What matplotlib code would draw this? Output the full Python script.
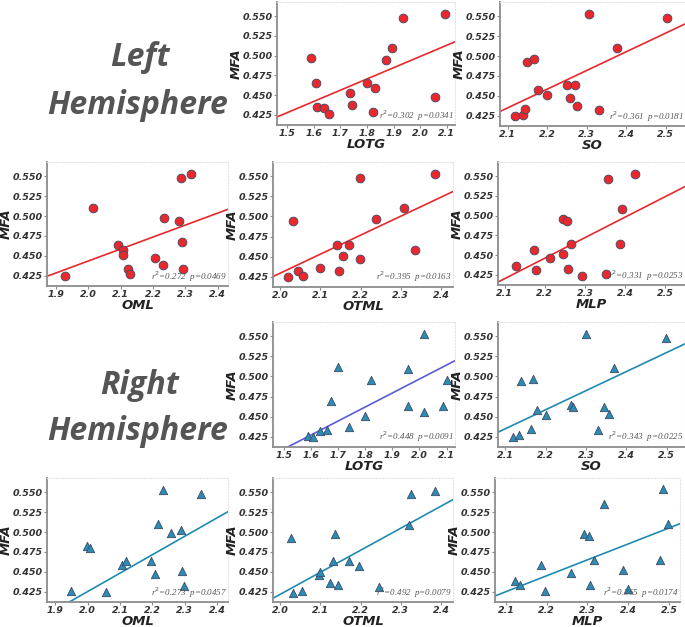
import numpy as np
import matplotlib
matplotlib.use("Agg")
import matplotlib.pyplot as plt
from matplotlib.ticker import MultipleLocator

# ---- data ----
# left hemisphere (circles)
lotg_l_x = [1.589, 1.606, 1.610, 1.637, 1.658, 1.737, 1.742, 1.800, 1.829, 1.823, 1.872, 1.894, 1.936, 2.054, 2.092]
lotg_l_y = [0.497, 0.465, 0.435, 0.433, 0.426, 0.452, 0.438, 0.465, 0.459, 0.428, 0.494, 0.510, 0.548, 0.448, 0.553]
so_l_x = [2.119, 2.138, 2.145, 2.150, 2.168, 2.178, 2.201, 2.251, 2.258, 2.271, 2.276, 2.307, 2.332, 2.377, 2.503]
so_l_y = [0.424, 0.426, 0.433, 0.493, 0.496, 0.457, 0.451, 0.464, 0.447, 0.464, 0.437, 0.553, 0.432, 0.510, 0.548]
oml_l_x = [1.927, 2.014, 2.092, 2.106, 2.107, 2.123, 2.130, 2.207, 2.230, 2.233, 2.280, 2.287, 2.291, 2.294, 2.318]
oml_l_y = [0.425, 0.510, 0.464, 0.457, 0.451, 0.433, 0.427, 0.447, 0.438, 0.497, 0.494, 0.548, 0.467, 0.433, 0.553]
otml_l_x = [2.019, 2.032, 2.045, 2.056, 2.099, 2.142, 2.147, 2.156, 2.172, 2.198, 2.198, 2.238, 2.308, 2.335, 2.385]
otml_l_y = [0.424, 0.494, 0.432, 0.426, 0.436, 0.464, 0.432, 0.451, 0.464, 0.548, 0.447, 0.497, 0.510, 0.458, 0.553]
mlp_l_x = [2.127, 2.174, 2.177, 2.212, 2.246, 2.246, 2.256, 2.258, 2.266, 2.293, 2.352, 2.358, 2.387, 2.393, 2.425]
mlp_l_y = [0.436, 0.457, 0.431, 0.446, 0.451, 0.496, 0.493, 0.432, 0.464, 0.424, 0.426, 0.547, 0.464, 0.509, 0.553]

# right hemisphere (triangles)
lotg_r_x = [1.589, 1.609, 1.635, 1.659, 1.674, 1.702, 1.740, 1.798, 1.820, 1.958, 1.958, 2.017, 2.016, 2.088, 2.100]
lotg_r_y = [0.426, 0.424, 0.432, 0.433, 0.470, 0.512, 0.437, 0.451, 0.495, 0.509, 0.463, 0.553, 0.456, 0.463, 0.495]
so_r_x = [2.118, 2.135, 2.140, 2.163, 2.169, 2.178, 2.200, 2.263, 2.268, 2.301, 2.329, 2.344, 2.356, 2.369, 2.498]
so_r_y = [0.425, 0.427, 0.494, 0.434, 0.497, 0.458, 0.452, 0.465, 0.462, 0.553, 0.433, 0.462, 0.453, 0.510, 0.548]
oml_r_x = [1.947, 1.997, 2.008, 2.055, 2.107, 2.118, 2.195, 2.209, 2.217, 2.233, 2.258, 2.288, 2.292, 2.298, 2.349]
oml_r_y = [0.426, 0.483, 0.480, 0.424, 0.458, 0.464, 0.464, 0.447, 0.510, 0.553, 0.499, 0.503, 0.451, 0.432, 0.548]
otml_r_x = [2.026, 2.031, 2.055, 2.096, 2.100, 2.123, 2.131, 2.136, 2.143, 2.171, 2.196, 2.247, 2.320, 2.325, 2.385]
otml_r_y = [0.492, 0.423, 0.426, 0.446, 0.450, 0.436, 0.463, 0.497, 0.433, 0.463, 0.457, 0.431, 0.509, 0.548, 0.552]
mlp_r_x = [2.121, 2.134, 2.186, 2.196, 2.259, 2.291, 2.303, 2.307, 2.316, 2.341, 2.388, 2.400, 2.477, 2.486, 2.498]
mlp_r_y = [0.438, 0.433, 0.459, 0.426, 0.448, 0.498, 0.495, 0.434, 0.465, 0.535, 0.452, 0.428, 0.465, 0.554, 0.510]

# fitted lines (slope, intercept) and stats
fits_l = [(0.1423, 0.2143), (0.2353, -0.0594), (0.1505, 0.1425), (0.2369, -0.0445), (0.2594, -0.1246)]
fits_r = [(0.1750, 0.1468), (0.2382, -0.0655), (0.2315, -0.0378), (0.2771, -0.1325), (0.2002, 0.0046)]
r2_l = ["0.302", "0.361", "0.272", "0.395", "0.331"]
p_l = ["0.0341", "0.0181", "0.0469", "0.0163", "0.0253"]
r2_r = ["0.448", "0.343", "0.273", "0.492", "0.365"]
p_r = ["0.0091", "0.0225", "0.0457", "0.0079", "0.0174"]

names = ["LOTG", "SO", "OML", "OTML", "MLP"]
y_ticks = [0.425, 0.450, 0.475, 0.500, 0.525, 0.550]

W, H = 685, 627
fig = plt.figure(figsize=(W / 100, H / 100), dpi=100)

# pixel boxes (left, right, top, bottom) and x-limits
boxes_l = [(277, 455, 2, 125), (500, 685, 2, 126), (47, 228, 162, 286), (273, 453, 162, 287), (498, 685, 162, 285)]
boxes_r = [(273, 455, 322, 447), (498, 685, 322, 447), (47, 228, 478, 602), (273, 453, 478, 602), (495, 680, 478, 602)]
xlims_l = [(1.461, 2.131), (2.081, 2.549), (1.872, 2.432), (1.982, 2.430), (2.083, 2.550)]
xlims_r = [(1.461, 2.131), (2.082, 2.545), (1.874, 2.434), (1.982, 2.430), (2.073, 2.527)]

def panel(box, xlim, x, y, fit, r2, p, name, marker, fc, lc):
    l, r, t, b = box
    ax = fig.add_axes([l / W, 1 - b / H, (r - l) / W, (b - t) / H])
    ax.scatter(x, y, s=40 if marker == "o" else 36, marker=marker, c=fc,
               edgecolors="#3d4a66", linewidths=0.6, zorder=3)
    xs = np.array(xlim)
    ax.plot(xs, fit[0] * xs + fit[1], color=lc, lw=1.2, zorder=2)
    ax.set_xlim(xlim)
    ax.set_ylim(0.412, 0.568)
    ax.xaxis.set_major_locator(MultipleLocator(0.1))
    ax.xaxis.set_major_formatter(lambda v, pos: "%.1f" % v)
    ax.set_yticks(y_ticks)
    ax.set_yticklabels(["%.3f" % v for v in y_ticks])
    for s in ["left", "bottom"]:
        ax.spines[s].set_color("#8c8c8c")
        ax.spines[s].set_linewidth(1.3)
    for s in ["top", "right"]:
        ax.spines[s].set_color("#e4e4e4")
        ax.spines[s].set_linestyle(":")
        ax.spines[s].set_linewidth(0.8)
    ax.tick_params(length=2, width=0.8, color="#8c8c8c", pad=1.2)
    for lab in ax.get_xticklabels() + ax.get_yticklabels():
        lab.set_fontsize(6.8)
        lab.set_fontweight("bold")
        lab.set_fontstyle("italic")
        lab.set_color("#333333")
    ax.set_xlabel(name, fontsize=9.5, fontweight="bold", fontstyle="italic", labelpad=-0.3, color="#222222")
    ax.set_ylabel("MFA", fontsize=9.5, fontweight="bold", fontstyle="italic", labelpad=-0.5, color="#222222")
    ax.text(0.995, 0.02, "r$^2$=%s  p=%s" % (r2, p), transform=ax.transAxes, ha="right", va="bottom",
            fontsize=6.5, fontstyle="italic", family="Liberation Serif", color="#555555")
    return ax

for i in range(5):
    panel(boxes_l[i], xlims_l[i], [lotg_l_x, so_l_x, oml_l_x, otml_l_x, mlp_l_x][i],
          [lotg_l_y, so_l_y, oml_l_y, otml_l_y, mlp_l_y][i], fits_l[i], r2_l[i], p_l[i],
          names[i], "o", "#e8282d", "#e8282d")
    panel(boxes_r[i], xlims_r[i], [lotg_r_x, so_r_x, oml_r_x, otml_r_x, mlp_r_x][i],
          [lotg_r_y, so_r_y, oml_r_y, otml_r_y, mlp_r_y][i], fits_r[i], r2_r[i], p_r[i],
          names[i], "^", "#2b8db3", "#5b5bd8" if i == 0 else "#1f8ab0")

tkw = dict(ha="center", va="center", fontsize=23, fontweight="bold", fontstyle="italic",
           family="Open Sans", color="#555555")
fig.text(140 / W, 1 - 58 / H, "Left", **tkw)
fig.text(138 / W, 1 - 105 / H, "Hemisphere", **tkw)
fig.text(140 / W, 1 - 385 / H, "Right", **tkw)
fig.text(138 / W, 1 - 432 / H, "Hemisphere", **tkw)

fig.savefig("out.png", dpi=100)
